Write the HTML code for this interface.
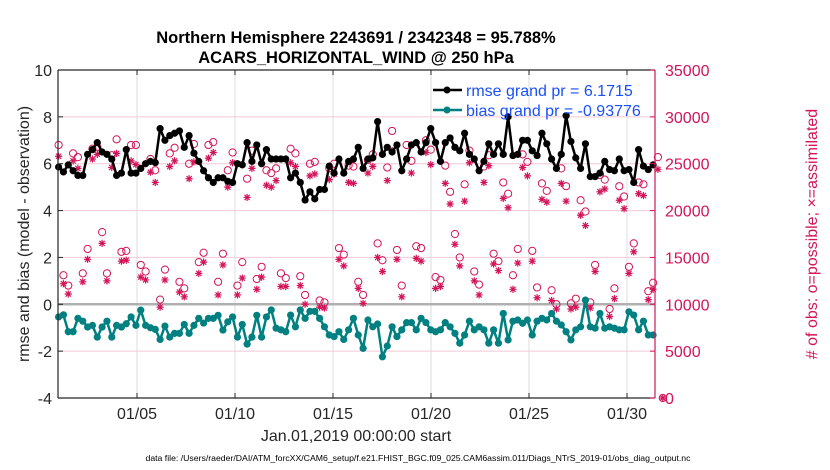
<!DOCTYPE html>
<html><head><meta charset="utf-8">
<style>
body{margin:0;background:#fff;}
svg{display:block;font-family:"Liberation Sans",sans-serif;}
</style></head>
<body>
<svg id="chart" width="830" height="470" viewBox="0 0 830 470">
<rect width="830" height="470" fill="#fff"/>
<g id="grid"></g>
<g id="marks"></g>
<g id="axes"></g>
<text x="356" y="43" text-anchor="middle" font-size="16.5" font-weight="bold" fill="#000">Northern Hemisphere 2243691 / 2342348 = 95.788%</text>
<text x="356" y="63" text-anchor="middle" font-size="16.5" font-weight="bold" fill="#000">ACARS_HORIZONTAL_WIND @ 250 hPa</text>
<text transform="translate(29,234) rotate(-90)" text-anchor="middle" font-size="16" fill="#262626">rmse and bias (model - observation)</text>
<text transform="translate(817,234) rotate(-90)" text-anchor="middle" font-size="16" fill="#d4145a"># of obs: o=possible; ×=assimilated</text>
<text x="356" y="441" text-anchor="middle" font-size="16" fill="#262626">Jan.01,2019 00:00:00 start</text>
<text x="418" y="461" text-anchor="middle" font-size="8.7" fill="#000">data file: /Users/raeder/DAI/ATM_forcXX/CAM6_setup/f.e21.FHIST_BGC.f09_025.CAM6assim.011/Diags_NTrS_2019-01/obs_diag_output.nc</text>
<g>
<g>
<line x1="433" y1="90" x2="462" y2="90" stroke="#000" stroke-width="2.5"/>
<circle cx="447" cy="90" r="3.5" fill="#000"/>
<text x="466" y="96" font-size="16" fill="#1a4fff">rmse grand pr = 6.1715</text>
</g>
<g>
<line x1="433" y1="110" x2="462" y2="110" stroke="#008080" stroke-width="2.5"/>
<circle cx="447" cy="110" r="3.5" fill="#008080"/>
<text x="466" y="116" font-size="16" fill="#1a4fff">bias grand pr = -0.93776</text>
</g>
</g>
</svg>
<script>
const rmse=[5.86,5.65,5.95,5.7,5.5,5.5,6.4,6.6,6.9,6.5,6.4,6.2,5.5,5.6,6.6,5.6,5.6,5.8,6.0,6.1,6.05,7.5,7.0,7.2,7.3,7.4,6.7,7.2,6.45,6.1,5.7,5.4,5.2,5.4,5.4,5.25,5.2,6.0,5.95,6.9,6.1,6.8,6.0,6.6,
6.2,6.2,6.2,6.2,5.4,5.6,5.2,4.45,4.8,4.5,4.9,4.9,5.9,5.6,6.2,5.6,6.1,6.2,6.7,5.8,6.2,6.25,7.8,6.4,6.7,6.5,6.8,5.7,6.2,6.8,6.9,6.5,6.9,7.5,6.9,6.1,6.9,7.1,
6.7,6.55,7.3,6.4,6.2,5.7,6.1,6.85,6.4,6.85,6.4,8.0,6.35,6.4,7.0,7.0,6.55,6.35,7.3,6.85,6.2,5.8,6.4,8.05,6.95,6.25,5.8,6.85,5.45,5.45,5.6,6.1,5.75,5.7,6.2,5.7,5.75,5.2,6.6,5.9,5.75,5.95];
const bias=[-0.54,-0.45,-1.17,-1.17,-0.6,-0.72,-0.97,-0.9,-1.4,-0.97,-0.72,-1.4,-0.9,-0.97,-0.83,-0.54,-0.9,-0.25,-0.9,-1.0,-1.07,-1.5,-0.93,-1.4,-1.24,-1.24,-0.86,-1.24,-0.9,-0.6,-0.8,-0.6,-0.6,-0.47,-1.1,-0.75,-0.54,-1.4,-0.86,-1.7,-1.4,-0.47,-1.4,-0.54,
-0.24,-1.02,-1.09,-1.17,-0.46,-0.96,-0.24,-0.6,-0.3,-0.3,-0.6,-0.96,-1.31,-1.38,-1.17,-1.5,-1.09,-0.6,-1.31,-1.88,-0.67,-0.96,-0.84,-2.24,-1.78,-0.96,-1.38,-1.09,-0.78,-0.78,-1.09,-0.6,-0.78,-1.09,-1.17,-1.09,-0.78,-0.96,
-1.24,-1.66,-1.31,-0.72,-1.09,-0.96,-1.09,-1.66,-1.09,-1.66,-0.39,-1.52,-0.72,-0.67,-0.81,-0.67,-1.31,-0.72,-0.6,-0.67,-0.39,-0.72,-0.88,-1.17,-1.52,-1.09,-0.96,0.18,-0.96,-1.02,-0.39,-1.02,-0.96,-1.02,-1.09,-1.09,-0.32,-0.46,-1.09,-0.72,-1.31,-1.31];
const possible=[27000,13100,12000,26100,25700,13300,15900,26600,26800,17700,13300,25900,27600,15600,15700,27000,27000,14200,13500,25500,24300,10500,13700,26100,26700,12400,11700,25000,27100,14500,15500,27000,27300,12400,15400,24300,26200,12000,14500,23400,26400,12700,14000,24300,
24000,24500,13300,12800,26600,26100,13000,11000,25000,25200,10400,10200,24500,25000,16000,15300,24800,24700,12400,11000,25400,26000,16500,14700,24600,28500,15800,12000,27000,25300,16200,16000,27500,26500,12900,12600,24800,22000,
17500,15000,22800,26400,13500,12100,24700,25900,15400,14600,23000,21800,13100,15900,26000,25200,15700,11800,22900,22100,11500,10000,24500,22600,10100,10600,21100,19900,10200,14200,23800,23300,9500,11700,22600,21500,14000,16500,23000,22800,11400,12300,25700,0];
const assimilated=[25800,12200,11100,25300,24500,12400,14800,25500,26000,16500,12500,24600,26100,14600,14700,25300,24900,12900,12600,24100,23000,9700,12600,24700,25300,11300,10800,23400,25200,13300,14500,25600,26200,11000,14200,22500,25100,11000,12800,21400,24500,11600,12900,22700,
22500,23200,11900,11900,25100,24700,12000,10000,23700,23900,9700,9600,23300,23900,14800,14100,23000,22900,11700,10100,24000,24700,15000,13500,23200,26400,14800,10800,25500,24000,14900,14600,26200,24900,11700,11900,22900,20700,
16400,14100,21000,25100,12500,11000,23000,24800,14300,13600,21300,20300,11600,14400,24600,23700,14600,10700,21200,20900,10400,9500,22900,21000,9500,9700,19500,18400,9600,13500,22000,22300,8700,10600,21100,20200,13300,15600,21800,21600,10500,11600,24400,0];

const DT=0.2466;
function xS(d){return 58.6+d*19.6;}
function yL(v){return 304.3-v*23.43;}
function yR(v){return 398-v*(328/35000);}
const leftTicks=[-4,-2,0,2,4,6,8,10];
const rightTicks=[0,5000,10000,15000,20000,25000,30000,35000];
const dayTicks=[4,9,14,19,24,29];
const dayLabels=["01/05","01/10","01/15","01/20","01/25","01/30"];
const NS="http://www.w3.org/2000/svg";
function mk(tag,attrs,parent){const e=document.createElementNS(NS,tag);for(const k in attrs)e.setAttribute(k,attrs[k]);parent.appendChild(e);return e;}
const grid=document.getElementById('grid'),marks=document.getElementById('marks'),axes=document.getElementById('axes');
const L=58,R=655,T=70,B=398;
rightTicks.forEach(v=>{const y=yR(v);
 const g=mk('line',{x1:L,x2:R,y1:y,y2:y,stroke:'#f2c9d6','stroke-width':1},grid);
 
 });
dayTicks.forEach((d,i)=>{const x=xS(d);
 const g=mk('line',{x1:x,x2:x,y1:T,y2:B,stroke:'#dcdcdc','stroke-width':1},grid);
 
 
 const t=mk('text',{x:x,y:419,'text-anchor':'middle','font-size':16,fill:'#262626'},axes);t.textContent=dayLabels[i];
 
 
 mk('line',{x1:x,x2:x,y1:B,y2:B-5,stroke:'#262626'},axes);
 mk('line',{x1:x,x2:x,y1:T,y2:T+5,stroke:'#262626'},axes);});
const zl=mk('line',{x1:L,x2:R,y1:yL(0),y2:yL(0),stroke:'#b0b0b0','stroke-width':2.5},grid);


possible.forEach((v,i)=>{const x=xS(i*DT);
 const c=mk('circle',{cx:x,cy:yR(v),r:3.6,fill:'none',stroke:'#d4145a','stroke-width':1},marks);
 
 });
assimilated.forEach((v,i)=>{const x=xS(i*DT),y=yR(v),s=3.6,d=2.6;
 const p=mk('path',{d:`M${x-s},${y}H${x+s}M${x},${y-s}V${y+s}M${x-d},${y-d}L${x+d},${y+d}M${x-d},${y+d}L${x+d},${y-d}`,stroke:'#d4145a','stroke-width':1.2,fill:'none'},marks);
 
 });
function series(arr,col,name){
 const pts=arr.map((v,i)=>xS(i*DT).toFixed(1)+','+yL(v).toFixed(1)).join(' ');
 const pl=mk('polyline',{points:pts,fill:'none',stroke:col,'stroke-width':2.5,'stroke-linejoin':'round'},marks);
 
 
 arr.forEach((v,i)=>{const c=mk('circle',{cx:xS(i*DT),cy:yL(v),r:3.6,fill:col},marks);
  
  });
}
series(rmse,'#000','rmse');
series(bias,'#008080','bias');
mk('line',{x1:L,x2:R,y1:T,y2:T,stroke:'#262626','stroke-width':1.2},axes);
mk('line',{x1:L,x2:R,y1:B,y2:B,stroke:'#262626','stroke-width':1.2},axes);
mk('line',{x1:L,x2:L,y1:T,y2:B,stroke:'#262626','stroke-width':1.2},axes);
mk('line',{x1:R,x2:R,y1:T,y2:B,stroke:'#d4145a','stroke-width':1.2},axes);
leftTicks.forEach(v=>{const y=yL(v);
 mk('line',{x1:L,x2:L+5,y1:y,y2:y,stroke:'#262626'},axes);
 const t=mk('text',{x:52,y:y+6,'text-anchor':'end','font-size':16,fill:'#262626'},axes);t.textContent=v;
 
 });
rightTicks.forEach(v=>{const y=yR(v);
 mk('line',{x1:R,x2:R-5,y1:y,y2:y,stroke:'#d4145a'},axes);
 const t=mk('text',{x:665,y:y+6,'text-anchor':'start','font-size':16,fill:'#d4145a'},axes);t.textContent=v;
 
 });
</script>
</body></html>
